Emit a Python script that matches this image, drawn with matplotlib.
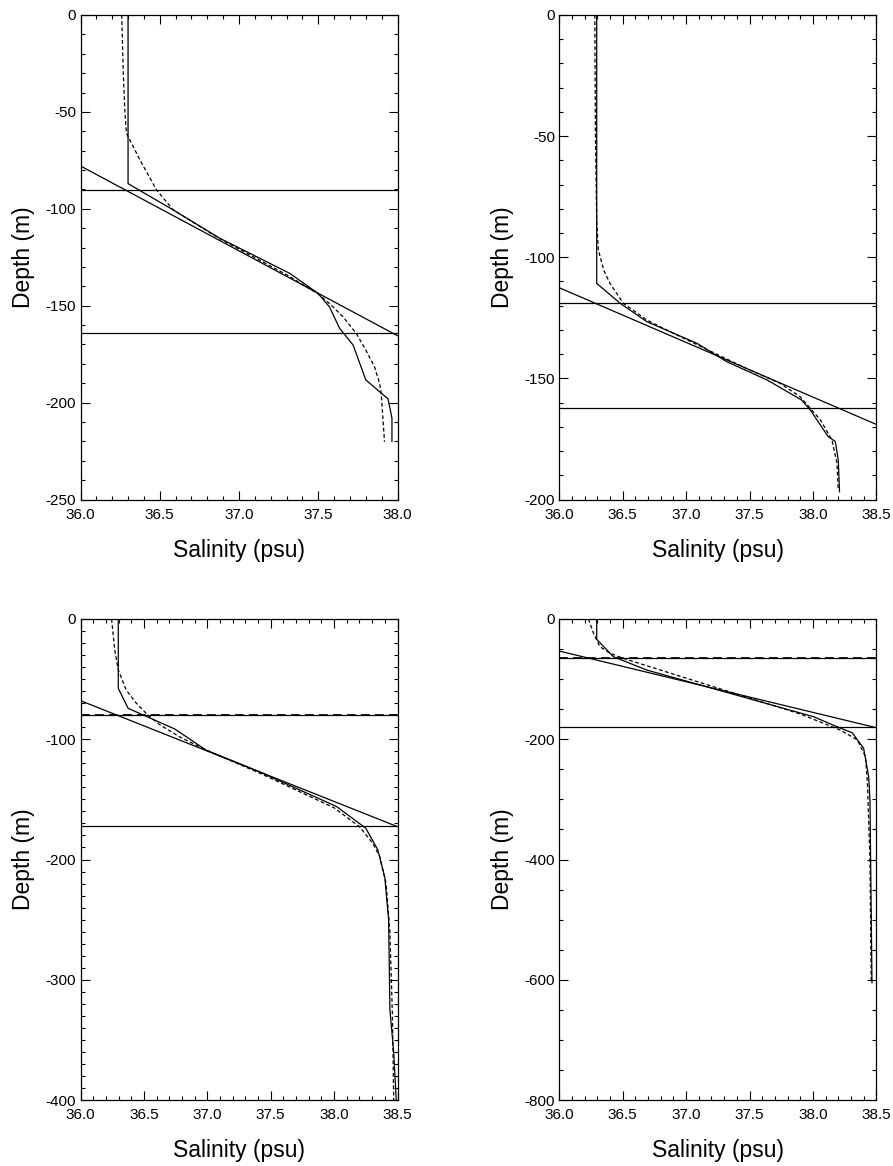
import matplotlib
matplotlib.use("Agg")
import matplotlib.pyplot as plt
from matplotlib.ticker import MultipleLocator, FormatStrFormatter

plt.rcParams['font.family'] = ['Liberation Sans', 'DejaVu Sans']
plt.rcParams['axes.unicode_minus'] = False

# ---------------- data (salinity psu, depth m; depth negative = below surface) ----------------
# Panel A (top-left)
a_obs_s = [36.30, 36.30, 36.585, 36.879, 37.32, 37.498, 37.57, 37.635, 37.72, 37.80, 37.887, 37.94, 37.965, 37.965]
a_obs_d = [0, -87, -100.6, -115.2, -133.3, -143.6, -150.5, -161.7, -170.3, -188.3, -194.4, -198, -208, -220]
a_fit_s = [36.26, 36.27, 36.28, 36.29, 36.375, 36.48, 36.585, 36.88, 37.30, 37.50, 37.57, 37.656, 37.74, 37.80, 37.855, 37.887, 37.897, 37.918]
a_fit_d = [0, -30, -50, -61, -74.8, -90.3, -100.6, -115.5, -134, -144, -148.8, -155.7, -164.3, -172.9, -181.5, -190, -195.2, -220.2]
a_tan_s = [36.0, 38.0]
a_tan_d = [-77.9, -165.5]
a_levels = [-90.3, -164.3]

# Panel B (top-right)
b_obs_s = [36.295, 36.295, 36.48, 36.69, 37.085, 37.32, 37.64, 37.91, 37.98, 38.12, 38.177, 38.20, 38.21]
b_obs_d = [0, -110.8, -119, -126.6, -135.5, -143.1, -150.7, -158.9, -163.1, -174, -176.1, -183.7, -196.8]
b_fit_s = [36.28, 36.285, 36.295, 36.308, 36.35, 36.40, 36.505, 36.69, 36.90, 37.30, 37.50, 37.74, 37.90, 38.06, 38.15, 38.19, 38.20]
b_fit_d = [0, -50, -85, -97, -105.3, -110.8, -119, -125.9, -131.4, -141.5, -146.5, -152, -157.6, -167.2, -175.4, -185, -196]
b_tan_s = [36.0, 38.5]
b_tan_d = [-112.6, -169.0]
b_levels = [-119.0, -162.1]

# Panel C (bottom-left)
c_obs_s = [36.298, 36.298, 36.376, 36.744, 36.99, 37.41, 38.02, 38.25, 38.345, 38.40, 38.43, 38.44, 38.47, 38.49]
c_obs_d = [0, -57.7, -74.3, -91.5, -109, -127, -156, -174, -192, -215, -250, -325, -360, -400]
c_fit_s = [36.245, 36.27, 36.298, 36.36, 36.44, 36.53, 36.626, 36.78, 36.99, 37.41, 38.00, 38.20, 38.305, 38.36, 38.41, 38.44, 38.46, 38.47]
c_fit_d = [0, -25.8, -42.4, -59, -70, -79.8, -88, -97.9, -109, -128, -157, -172.7, -186.5, -197.7, -220, -260, -330, -400]
c_tan_s = [36.0, 38.5]
c_tan_d = [-67.9, -172.7]
c_levels = [-79.8, -172.1]

# Panel D (bottom-right)
d_obs_s = [36.295, 36.295, 36.426, 36.69, 38.005, 38.19, 38.31, 38.40, 38.44, 38.45, 38.466]
d_obs_d = [0, -33.8, -62.7, -84.9, -162.5, -179.2, -189.2, -215, -262.4, -301, -605]
d_fit_s = [36.23, 36.27, 36.32, 36.40, 36.505, 37.90, 38.216, 38.35, 38.415, 38.43, 38.45, 38.46]
d_fit_d = [0, -23.9, -46, -57, -65.5, -158, -184.7, -201, -229, -273, -400, -605]
d_tan_s = [36.0, 38.5]
d_tan_d = [-53.3, -180.8]
d_levels = [-65.4, -179.0]

panels = [
    dict(obs=(a_obs_s, a_obs_d), fit=(a_fit_s, a_fit_d), tan=(a_tan_s, a_tan_d), lev=a_levels,
         xlim=(36.0, 38.0), ylim=(-250, 0), ymaj=50, ymin=10, dashed_upper=False),
    dict(obs=(b_obs_s, b_obs_d), fit=(b_fit_s, b_fit_d), tan=(b_tan_s, b_tan_d), lev=b_levels,
         xlim=(36.0, 38.5), ylim=(-200, 0), ymaj=50, ymin=10, dashed_upper=False),
    dict(obs=(c_obs_s, c_obs_d), fit=(c_fit_s, c_fit_d), tan=(c_tan_s, c_tan_d), lev=c_levels,
         xlim=(36.0, 38.5), ylim=(-400, 0), ymaj=100, ymin=10, dashed_upper=True),
    dict(obs=(d_obs_s, d_obs_d), fit=(d_fit_s, d_fit_d), tan=(d_tan_s, d_tan_d), lev=d_levels,
         xlim=(36.0, 38.5), ylim=(-800, 0), ymaj=200, ymin=50, dashed_upper=True),
]

W, H = 893, 1166
fig = plt.figure(figsize=(W / 100, H / 100), dpi=100)

lefts = [80.5, 559.3]
tops = [15.0, 619.0]
aw = 317.0
ahs = [484.5, 481.0]

lw = 0.9
for i, p in enumerate(panels):
    r, c = divmod(i, 2)
    x0 = lefts[c] / W
    ah = ahs[r]
    y0 = 1 - (tops[r] + ah) / H
    ax = fig.add_axes([x0, y0, aw / W, ah / H])

    ax.plot(p['obs'][0], p['obs'][1], color='black', lw=lw, solid_joinstyle='miter')
    ax.plot(p['fit'][0], p['fit'][1], color='black', lw=lw, ls=(0, (3, 2)))
    ax.plot(p['tan'][0], p['tan'][1], color='black', lw=lw)
    for k, lv in enumerate(p['lev']):
        ax.axhline(lv, color='black', lw=lw)
        if k == 0 and p['dashed_upper']:
            ax.axhline(lv, color='black', lw=lw * 1.4, ls=(0, (5, 3)))

    ax.set_xlim(*p['xlim'])
    ax.set_ylim(*p['ylim'])
    ax.xaxis.set_major_locator(MultipleLocator(0.5))
    ax.xaxis.set_minor_locator(MultipleLocator(0.1))
    ax.xaxis.set_major_formatter(FormatStrFormatter('%.1f'))
    ax.yaxis.set_major_locator(MultipleLocator(p['ymaj']))
    ax.yaxis.set_minor_locator(MultipleLocator(p['ymin']))
    ax.yaxis.set_major_formatter(FormatStrFormatter('%d'))
    ax.tick_params(which='both', direction='in', top=True, right=True, width=0.8, colors='black')
    ax.tick_params(which='major', length=6.5, labelsize=11)
    ax.tick_params(which='minor', length=3.2)
    ax.tick_params(axis='x', which='major', pad=6)
    ax.tick_params(axis='y', which='major', pad=3)
    for s in ax.spines.values():
        s.set_linewidth(0.9)

    ax.set_xlabel('Salinity (psu)', fontsize=16.5, labelpad=12)
    ax.set_ylabel('Depth (m)', fontsize=16.5, labelpad=8)

fig.savefig('out.png', dpi=100)
